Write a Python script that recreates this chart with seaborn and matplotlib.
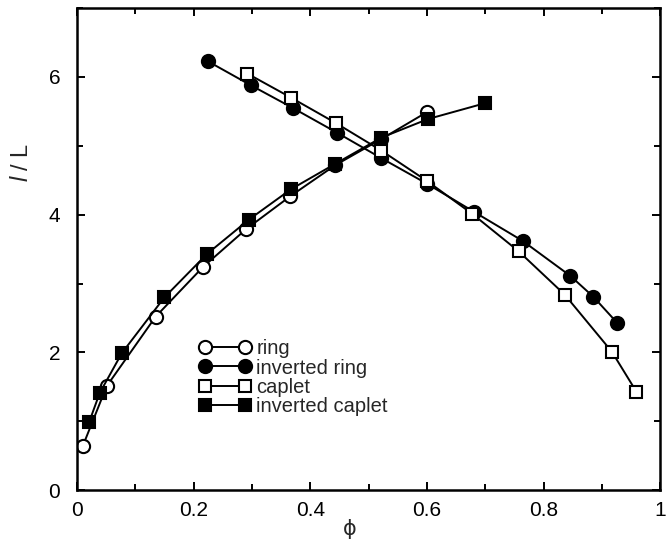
import matplotlib
matplotlib.use("Agg")
import matplotlib.pyplot as plt
import seaborn as sns
import pandas as pd
from matplotlib.ticker import MultipleLocator

# values
ring_phi = [0.010, 0.051, 0.135, 0.216, 0.290, 0.366, 0.443, 0.522, 0.600]
ring_len = [0.64, 1.51, 2.52, 3.24, 3.79, 4.27, 4.72, 5.10, 5.49]

inv_ring_phi = [0.224, 0.298, 0.370, 0.446, 0.522, 0.600, 0.681, 0.764, 0.846, 0.885, 0.926]
inv_ring_len = [6.23, 5.88, 5.55, 5.19, 4.82, 4.45, 4.04, 3.62, 3.11, 2.81, 2.43]

caplet_phi = [0.292, 0.367, 0.444, 0.522, 0.600, 0.678, 0.757, 0.836, 0.917, 0.959]
caplet_len = [6.05, 5.70, 5.33, 4.93, 4.49, 4.01, 3.47, 2.84, 2.01, 1.43]

inv_caplet_phi = [0.021, 0.039, 0.077, 0.150, 0.223, 0.295, 0.367, 0.443, 0.522, 0.602, 0.700]
inv_caplet_len = [0.99, 1.41, 1.99, 2.80, 3.43, 3.93, 4.37, 4.74, 5.12, 5.39, 5.62]

x_ticks = [0, 0.2, 0.4, 0.6, 0.8, 1.0]
x_tick_labels = ["0", "0.2", "0.4", "0.6", "0.8", "1"]

series = [
    ("ring", ring_phi, ring_len, "o", "white"),
    ("inverted ring", inv_ring_phi, inv_ring_len, "o", "black"),
    ("caplet", caplet_phi, caplet_len, "s", "white"),
    ("inverted caplet", inv_caplet_phi, inv_caplet_len, "s", "black"),
]

sns.set_theme(style="ticks")
plt.rcParams["font.family"] = ["Liberation Sans", "DejaVu Sans"]
plt.rcParams["mathtext.fontset"] = "custom"
plt.rcParams["mathtext.it"] = "Liberation Sans:italic"
plt.rcParams["mathtext.rm"] = "Liberation Sans"

fig = plt.figure(figsize=(6.69, 5.41), dpi=100)
ax = fig.add_axes([0.115, 0.094, 0.872, 0.891])

for name, xs, ys, mk, face in series:
    df = pd.DataFrame({"phi": xs, "len": ys})
    ms = 9.5 if mk == "o" else 8.5
    sns.lineplot(data=df, x="phi", y="len", ax=ax, sort=False, color="black",
                 linewidth=1.4, marker=mk, markersize=ms, markerfacecolor=face,
                 markeredgecolor="black", markeredgewidth=1.5, label=name)

ax.set_xlim(0, 1)
ax.set_ylim(0, 7)
ax.set_xticks(x_ticks)
ax.set_xticklabels(x_tick_labels)
ax.xaxis.set_minor_locator(MultipleLocator(0.1))
ax.yaxis.set_major_locator(MultipleLocator(2))
ax.yaxis.set_minor_locator(MultipleLocator(1))
ax.tick_params(which="both", direction="in", top=True, right=True,
               width=1.4, labelsize=15, colors="black")
ax.tick_params(which="major", length=6)
ax.tick_params(axis="y", which="major", pad=12)
ax.tick_params(axis="x", which="major", pad=8)
ax.tick_params(which="minor", length=4)
for s in ax.spines.values():
    s.set_linewidth(1.8)
    s.set_color("black")

ax.set_xlabel("\u03d5", fontsize=15, family=["DejaVu Sans"])
ax.xaxis.set_label_coords(0.468, -0.06)
ax.set_ylabel(r"$l$ / L", fontsize=17)
ax.yaxis.set_label_coords(-0.075, 0.68)

leg = ax.legend(loc="upper left", bbox_to_anchor=(0.195, 0.33), frameon=False,
                numpoints=2, handlelength=2.6, handletextpad=0.25,
                labelspacing=0.02, fontsize=14.5, borderaxespad=0)

fig.savefig("out.png", dpi=100)
